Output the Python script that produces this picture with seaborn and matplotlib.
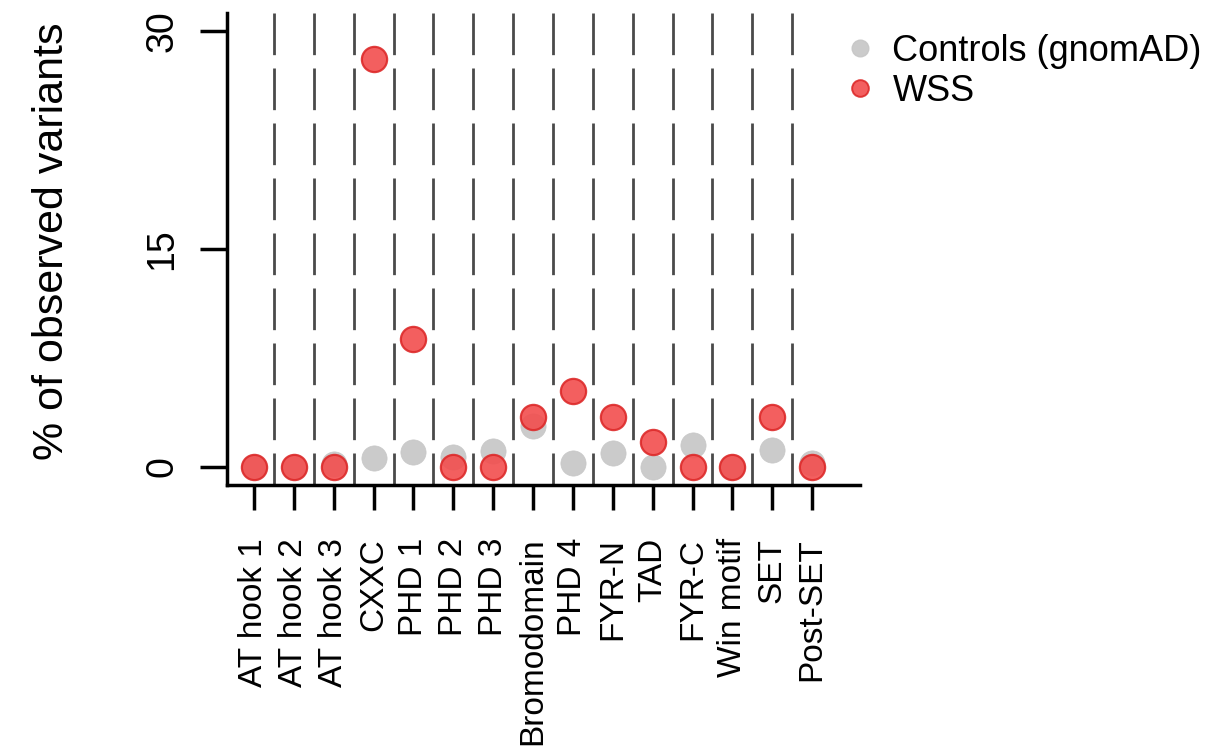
import matplotlib
matplotlib.use("Agg")
import matplotlib.pyplot as plt
from matplotlib.lines import Line2D
import pandas as pd
import seaborn as sns

# Protein domains along the x axis
categories = ["AT hook 1", "AT hook 2", "AT hook 3", "CXXC", "PHD 1", "PHD 2",
              "PHD 3", "Bromodomain", "PHD 4", "FYR-N", "TAD", "FYR-C",
              "Win motif", "SET", "Post-SET"]

# % of observed variants falling in each domain
controls = [0.0, 0.0, 0.2, 0.6, 1.05, 0.7, 1.1, 2.8, 0.3, 0.95, 0.0, 1.5, 0.0, 1.2, 0.3]
wss = [0.0, 0.0, 0.0, 28.1, 8.8, 0.0, 0.0, 3.45, 5.25, 3.45, 1.7, 0.0, 0.0, 3.45, 0.0]

series_names = ["Controls (gnomAD)", "WSS"]
y_ticks = [0, 15, 30]

df_ctrl = pd.DataFrame({"domain": categories, "pct": controls})
df_wss = pd.DataFrame({"domain": categories, "pct": wss})

sns.set_theme(style="white")
plt.rcParams["font.family"] = ["Liberation Sans", "DejaVu Sans"]
plt.rcParams["text.color"] = "black"

fig = plt.figure(figsize=(12.13, 7.49), dpi=100)
ax = fig.add_axes([0.1871, 0.3525, 0.5219, 0.6301])

gray = "#c6c6c6"
red_fill = "#f24e4e"
red_edge = "#dd2a2a"

# Dashed separators between domains
for i in range(len(categories) - 1):
    ax.axvline(i + 0.5, ymin=1, ymax=0, color="#4a4a4a", lw=2.0,
               linestyle=(0, (15, 4.8)), zorder=1)

sns.scatterplot(data=df_ctrl, x="domain", y="pct", ax=ax, color=gray,
                s=330, edgecolor=gray, linewidth=0.5, alpha=0.9, zorder=3,
                legend=False)
sns.scatterplot(data=df_wss, x="domain", y="pct", ax=ax, color=red_fill,
                s=330, edgecolor=red_edge, linewidth=1.6, alpha=0.9, zorder=4,
                legend=False)

ax.set_xlim(-0.677, 15.2)
ax.set_ylim(-1.24, 31.24)
ax.set_yticks(y_ticks)
ax.set_yticklabels([str(t) for t in y_ticks], rotation=90, va="center")
ax.set_xticks(range(len(categories)))
ax.set_xticklabels(categories, rotation=90, ha="center", va="top")

for side in ["top", "right"]:
    ax.spines[side].set_visible(False)
for side in ["left", "bottom"]:
    ax.spines[side].set_visible(True)
    ax.spines[side].set_color("black")
    ax.spines[side].set_linewidth(2.5)

ax.tick_params(axis="y", length=19.5, width=2.5, color="black",
               labelsize=27, pad=14, left=True, labelcolor="black")
ax.tick_params(axis="x", length=18, width=2.5, color="black",
               labelsize=24, pad=20, bottom=True, labelcolor="black")

ax.set_xlabel("")
ax.set_ylabel("% of observed variants", fontsize=31, color="black")
ax.yaxis.set_label_coords(-0.245, 0.517)

handles = [
    Line2D([], [], marker="o", linestyle="none", markersize=12,
           markerfacecolor=gray, markeredgecolor=gray, alpha=0.9),
    Line2D([], [], marker="o", linestyle="none", markersize=12,
           markerfacecolor=red_fill, markeredgecolor=red_edge,
           markeredgewidth=1.4, alpha=0.9),
]
ax.legend(handles, series_names, loc="upper left",
          bbox_to_anchor=(0.697, 0.955), bbox_transform=fig.transFigure,
          frameon=False, fontsize=26, handlelength=0.8, handletextpad=0.5,
          labelspacing=0.15, borderpad=0, borderaxespad=0, labelcolor="black")

fig.savefig("out.png", dpi=100)
